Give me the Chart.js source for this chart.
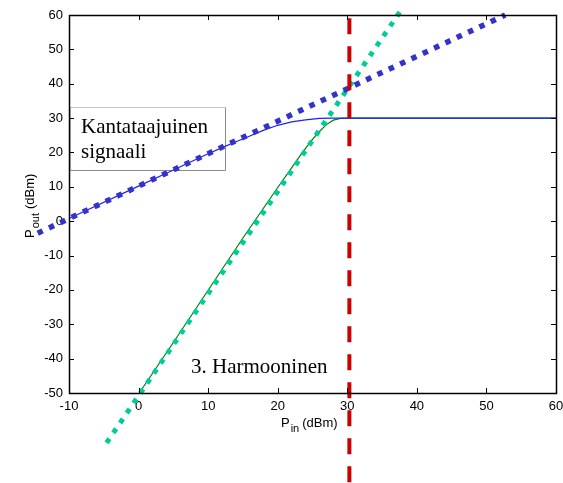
<!DOCTYPE html>
<html>
<head>
<meta charset="utf-8">
<script src="https://cdn.jsdelivr.net/npm/chart.js@4.4.1/dist/chart.umd.min.js"></script>
<style>
  html, body { margin: 0; padding: 0; background: #fff; }
  #wrap { width: 563px; height: 483px; }
</style>
</head>
<body>
<div id="wrap"><canvas id="plot" width="563" height="483"></canvas></div>
<script>
// measured curves (dBm)
const fundIn  = [-10, 0, 5, 10, 12, 14, 16, 18, 20, 22, 24, 26, 28, 30, 60];
const fundOut = [0.8, 10.2, 14.9, 19.6, 21.4, 23.1, 24.8, 26.5, 27.9, 28.9, 29.5, 29.9, 30, 30, 30];
const harmIn  = [0.1, 5, 10, 15, 20, 22, 23, 24, 25, 26, 27, 28, 29, 30, 60];
const harmOut = [-50, -35.3, -20.1, -4.9, 9.8, 15.5, 18.4, 21.2, 23.8, 26.1, 28.1, 29.4, 29.9, 30, 30];

// asymptotes + intercept marker
const fundAsymIn  = [-14.5, 52.7];
const fundAsymOut = [-3.5, 60];
const harmAsymIn  = [-4.6, 38.1];
const harmAsymOut = [-64.5, 62.5];
const ip3In  = [30.3, 30.3];
const ip3Out = [-76, 60];

const xMin = -10, xMax = 60, yMin = -50, yMax = 60, tickStep = 10;

const pts = (xs, ys) => xs.map((x, i) => ({ x: x, y: ys[i] }));

const sans = "'Liberation Sans', Arial, sans-serif";
const serif = "'Liberation Serif', 'Times New Roman', serif";

// matlab-ish box, inward ticks, labels
const decor = {
  id: "decor",
  beforeDatasetsDraw(chart) {
    const ctx = chart.ctx;
    ctx.save();
    // text box (Kantataajuinen signaali)
    ctx.strokeStyle = "#8a8a8a";
    ctx.lineWidth = 1;
    ctx.setLineDash([1, 1]);
    ctx.beginPath();
    ctx.moveTo(70.5, 170.5);
    ctx.lineTo(70.5, 107.5);
    ctx.lineTo(225.5, 107.5);
    ctx.stroke();
    ctx.setLineDash([]);
    ctx.beginPath();
    ctx.moveTo(225.5, 107.5);
    ctx.lineTo(225.5, 170.5);
    ctx.lineTo(70.5, 170.5);
    ctx.stroke();
    ctx.restore();
  },
  afterDraw(chart) {
    const ctx = chart.ctx;
    const a = chart.chartArea;
    const xs = chart.scales.x, ys = chart.scales.y;
    ctx.save();
    ctx.strokeStyle = "#000";
    ctx.lineWidth = 1;
    ctx.beginPath();
    for (let v = xMin; v <= xMax; v += tickStep) {
      const px = Math.round(xs.getPixelForValue(v)) + 0.5;
      ctx.moveTo(px, a.bottom); ctx.lineTo(px, a.bottom - 5);
      ctx.moveTo(px, a.top); ctx.lineTo(px, a.top + 5);
    }
    for (let v = yMin; v <= yMax; v += tickStep) {
      const py = Math.round(ys.getPixelForValue(v)) + 0.5;
      ctx.moveTo(a.left, py); ctx.lineTo(a.left + 5, py);
      ctx.moveTo(a.right, py); ctx.lineTo(a.right - 5, py);
    }
    ctx.stroke();
    ctx.lineWidth = 1.5;
    ctx.strokeRect(Math.round(a.left) + 0.5, Math.round(a.top) + 0.5,
                   Math.round(a.right - a.left), Math.round(a.bottom - a.top));

    // annotations
    ctx.fillStyle = "#000";
    ctx.font = "21px " + serif;
    ctx.textBaseline = "alphabetic";
    ctx.fillText("Kantataajuinen", 81, 133);
    ctx.fillText("signaali", 81, 158);
    ctx.fillText("3. Harmooninen", 191, 373);

    // axis titles with subscripts
    ctx.font = "13px " + sans;
    let x0 = 281;
    ctx.fillText("P", x0, 427);
    x0 += ctx.measureText("P").width;
    ctx.font = "11px " + sans;
    ctx.fillText("in", x0 + 1, 432);
    x0 += ctx.measureText("in").width + 4;
    ctx.font = "13px " + sans;
    ctx.fillText("(dBm)", x0, 427);

    ctx.translate(34, 238);
    ctx.rotate(-Math.PI / 2);
    let t = 0;
    ctx.fillText("P", t, 0);
    t += ctx.measureText("P").width;
    ctx.font = "11px " + sans;
    ctx.fillText("out", t + 1, 5);
    t += ctx.measureText("out").width + 5;
    ctx.font = "13px " + sans;
    ctx.fillText("(dBm)", t, 0);
    ctx.restore();
  },
};

new Chart(document.getElementById("plot"), {
  type: "line",
  plugins: [decor],
  data: {
    datasets: [
      {
        data: pts(ip3In, ip3Out),
        borderColor: "#cc0000",
        borderWidth: 4,
        borderDash: [16, 12],
        borderCapStyle: "butt",
        order: 0,
      },
      {
        data: pts(fundAsymIn, fundAsymOut),
        borderColor: "#3333cc",
        borderWidth: 5.5,
        borderDash: [5.5, 7],
        borderCapStyle: "butt",
        order: 1,
      },
      {
        data: pts(harmAsymIn, harmAsymOut),
        borderColor: "#00cc99",
        borderWidth: 5,
        borderDash: [5, 7],
        borderCapStyle: "butt",
        order: 1,
      },
      {
        data: pts(fundIn, fundOut),
        borderColor: "#1f1fff",
        borderWidth: 1.2,
        order: 2,
      },
      {
        data: pts(harmIn, harmOut),
        borderColor: "#008000",
        borderWidth: 1.2,
        order: 3,
      },
    ],
  },
  options: {
    responsive: false,
    animation: false,
    layout: { padding: { top: 15, right: 7, left: 0, bottom: 0 } },
    elements: {
      point: { radius: 0 },
      line: { tension: 0, fill: false },
    },
    datasets: { line: { clip: false } },
    plugins: {
      legend: { display: false },
      tooltip: { enabled: false },
    },
    scales: {
      x: {
        type: "linear",
        min: xMin,
        max: xMax,
        grid: { display: false, drawTicks: false },
        border: { display: false },
        ticks: {
          stepSize: tickStep,
          padding: 6,
          color: "#000",
          maxRotation: 0,
          font: { family: sans, size: 13 },
        },
        afterFit: (s) => { s.height = 90; s.paddingLeft = 0; s.paddingRight = 0; },
      },
      y: {
        type: "linear",
        min: yMin,
        max: yMax,
        grid: { display: false, drawTicks: false },
        border: { display: false },
        ticks: {
          stepSize: tickStep,
          padding: 6,
          color: "#000",
          font: { family: sans, size: 13 },
        },
        afterFit: (s) => { s.width = 69; s.paddingTop = 0; s.paddingBottom = 0; },
      },
    },
  },
});
</script>
</body>
</html>
